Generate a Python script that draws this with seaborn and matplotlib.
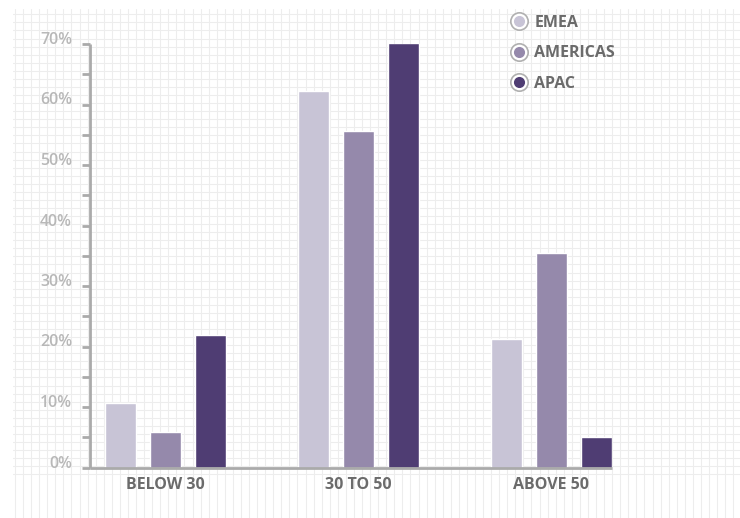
import numpy as np
import pandas as pd
import seaborn as sns
import matplotlib.pyplot as plt
from matplotlib.lines import Line2D
from matplotlib.legend_handler import HandlerTuple
from matplotlib.ticker import MultipleLocator, FuncFormatter

sns.set_theme(style='white')
plt.rcParams['font.family'] = ['Open Sans', 'DejaVu Sans']

age_groups = ['BELOW 30', '30 TO 50', 'ABOVE 50']
regions = ['EMEA', 'AMERICAS', 'APAC']
emea = [10.6, 62.2, 21.3]
americas = [5.8, 55.6, 35.5]
apac = [21.9, 70.2, 5.0]
colors = ['#c8c4d6', '#9589ab', '#4f3d73']

df = pd.DataFrame({
    'group': age_groups * 3,
    'region': [r for r in regions for _ in age_groups],
    'share': emea + americas + apac,
})

W, H = 740, 518
fig = plt.figure(figsize=(W / 100, H / 100), dpi=100)

# graph-paper background
bg = fig.add_axes([0, 0, 1, 1], zorder=0)
bg.set_xlim(0, W)
bg.set_ylim(H, 0)
bg.axis('off')
for x in np.arange(15, W, 8.07):
    bg.plot([x, x], [9, H], color='#ededed', lw=0.8, snap=True)
for y in np.arange(474.3, 8, -8.07):
    bg.plot([13, W], [y, y], color='#ededed', lw=0.8, snap=True)

ax = fig.add_axes([90 / W, (H - 467.5) / H, 522 / W, (467.5 - 44) / H], zorder=1)
ax.patch.set_alpha(0)
sns.barplot(data=df, x='group', y='share', hue='region', palette=colors,
            width=0.70, gap=0.31, saturation=1, ax=ax, legend=False)

ax.set_xlim(-0.392, 2.314)
ax.set_ylim(0, 70)
ax.set_xlabel('')
ax.set_ylabel('')
for s in ['top', 'right']:
    ax.spines[s].set_visible(False)
for s in ['left', 'bottom']:
    ax.spines[s].set_color('#aaaaaa')
    ax.spines[s].set_linewidth(2)
    ax.spines[s].set_capstyle('butt')

ax.yaxis.set_major_locator(MultipleLocator(10))
ax.yaxis.set_minor_locator(MultipleLocator(5))
ax.yaxis.set_major_formatter(FuncFormatter(lambda v, p: f'{v:.0f}%'))
ax.tick_params(axis='y', which='both', left=True, length=6, width=2,
               color='#aaaaaa', direction='out', pad=7)
ax.tick_params(axis='y', labelsize=11.5, labelcolor='#b8b8b8')
ax.tick_params(axis='x', length=0, pad=7, labelsize=11.5, labelcolor='#6b6b6b')
for lbl in ax.get_xticklabels():
    lbl.set_fontweight('bold')
for lbl in ax.get_yticklabels():
    lbl.set_fontweight('semibold')
    lbl.set_verticalalignment('baseline')

handles = [(Line2D([], [], ls='', marker='o', ms=12.5, mfc='white', mec='#b0b0b0', mew=1.2),
            Line2D([], [], ls='', marker='o', ms=8, mfc=c, mec='none'))
           for c in colors]
leg = fig.legend(handles, regions, loc='upper left', bbox_to_anchor=(495 / W, 1 - 2 / H),
                 frameon=False, handler_map={tuple: HandlerTuple(ndivide=1, pad=0)},
                 handlelength=1.4, handletextpad=0.25, labelspacing=0.9, borderpad=0.3,
                 prop={'size': 11.5, 'weight': 'bold'})
for t in leg.get_texts():
    t.set_color('#6b6b6b')

fig.savefig('out.png', dpi=100)
